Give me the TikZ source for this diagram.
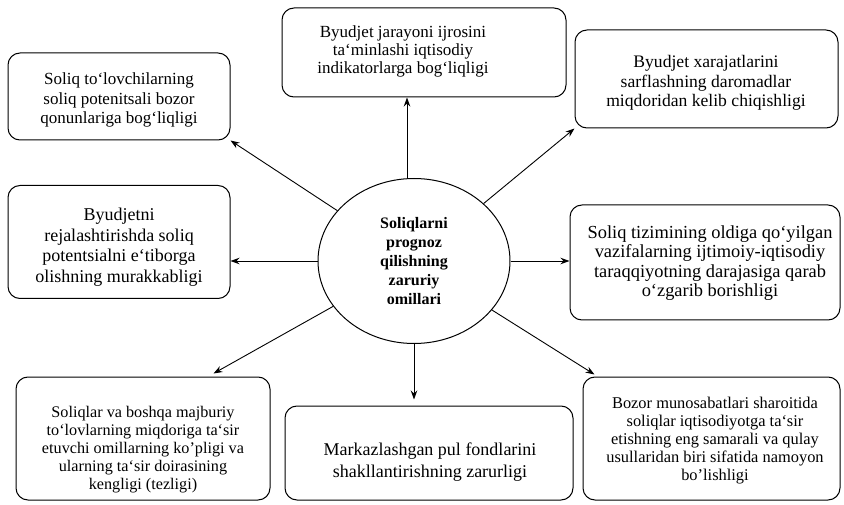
\documentclass[tikz,border=0pt]{standalone}
\usepackage{fontspec}
\setmainfont{Liberation Serif}
\usetikzlibrary{shapes.geometric,arrows.meta}
\begin{document}
\begin{tikzpicture}[x=1pt,y=-1pt,
  frame/.style={draw,line width=1pt,rounded corners=12pt,inner sep=0pt},
  txt/.style n args={2}{align=center,inner sep=0pt,font=\fontsize{#1}{#2}\selectfont},
  hub/.style={draw,line width=1pt,ellipse,inner sep=0pt,align=center,
    minimum width=192pt,minimum height=165pt,
    font=\bfseries\fontsize{16}{18.8}\selectfont},
  link/.style={line width=0.9pt,-{Stealth[length=9pt,width=6.5pt]}}]
\useasboundingbox (0,0) rectangle (844,505);

\node[hub] (c) at (414,261) {Soliqlarni\\prognoz\\qilishning\\zaruriy\\omillari};

% frames
\node[frame,minimum width=222pt,minimum height=87pt]  (b1) at (119,96.5) {};
\node[frame,minimum width=284pt,minimum height=89pt]  (b2) at (424,52.5) {};
\node[frame,minimum width=263pt,minimum height=98pt]  (b3) at (706.5,79) {};
\node[frame,minimum width=222pt,minimum height=113pt] (b4) at (119,242) {};
\node[frame,minimum width=270pt,minimum height=115pt] (b6) at (705,262.5) {};
\node[frame,minimum width=254pt,minimum height=123pt] (b7) at (143,438.5) {};
\node[frame,minimum width=288pt,minimum height=94pt]  (b8) at (429,453) {};
\node[frame,minimum width=257pt,minimum height=123pt] (b9) at (711.5,438.5) {};

% texts
\node[txt={17}{19.5}] (t1) at (119,100)
  {Soliq to`lovchilarning\\soliq potenitsali bozor\\qonunlariga bog‘liqligi};
\node[txt={17}{18}] (t2) at (403,51)
  {Byudjet jarayoni ijrosini\\ta`minlashi iqtisodiy\\indikatorlarga bog`liqligi};
\node[txt={17.6}{19.5}] (t3) at (706,83)
  {Byudjet xarajatlarini\\sarflashning daromadlar\\miqdoridan kelib chiqishligi};
\node[txt={18}{20.5}] (t4) at (119,247)
  {Byudjetni\\rejalashtirishda soliq\\potentsialni e‘tiborga\\olishning murakkabligi};
\node[txt={18.4}{19.5}] (t6) at (710,263)
  {Soliq tizimining oldiga qo`yilgan\\vazifalarning ijtimoiy-iqtisodiy\\taraqqiyotning darajasiga qarab\\o‘zgarib borishligi};
\node[txt={16.2}{18}] (t7) at (143,450)
  {Soliqlar va boshqa majburiy\\to‘lovlarning miqdoriga ta‘sir\\etuvchi omillarning ko’pligi va\\ularning ta‘sir doirasining\\kengligi (tezligi)};
\node[txt={18}{22}] (t8) at (430,462)
  {Markazlashgan pul fondlarini\\shakllantirishning zarurligi};
\node[txt={16.4}{18}] (t9) at (715,441)
  {Bozor munosabatlari sharoitida\\soliqlar iqtisodiyotga ta‘sir\\etishning eng samarali va qulay\\usullaridan biri sifatida namoyon\\bo’lishligi};

% arrow ends on the frames
\coordinate (e2) at ([xshift=-17pt]b2.south);
\coordinate (e4) at (b4.east |- c.west);
\coordinate (e6) at (b6.west |- c.east);
\coordinate (e7) at ([xshift=-57pt,yshift=3pt]b7.north east);
\coordinate (e8) at ([yshift=6pt]c.south |- b8.north);
\coordinate (e9) at ([xshift=12pt,yshift=2pt]b9.north west);
\coordinate (s2) at ([xshift=-7pt]c.north);

\draw[link] (c) -- (b1.south east);
\draw[link] (s2 |- c.north) -- (e2);
\draw[link] (c) -- (b3.south west);
\draw[link] (c.west) -- (e4);
\draw[link] (c.east) -- (e6);
\draw[link] (c) -- (e7);
\draw[link] (c.south) -- (e8);
\draw[link] (c) -- (e9);
\end{tikzpicture}
\end{document}
